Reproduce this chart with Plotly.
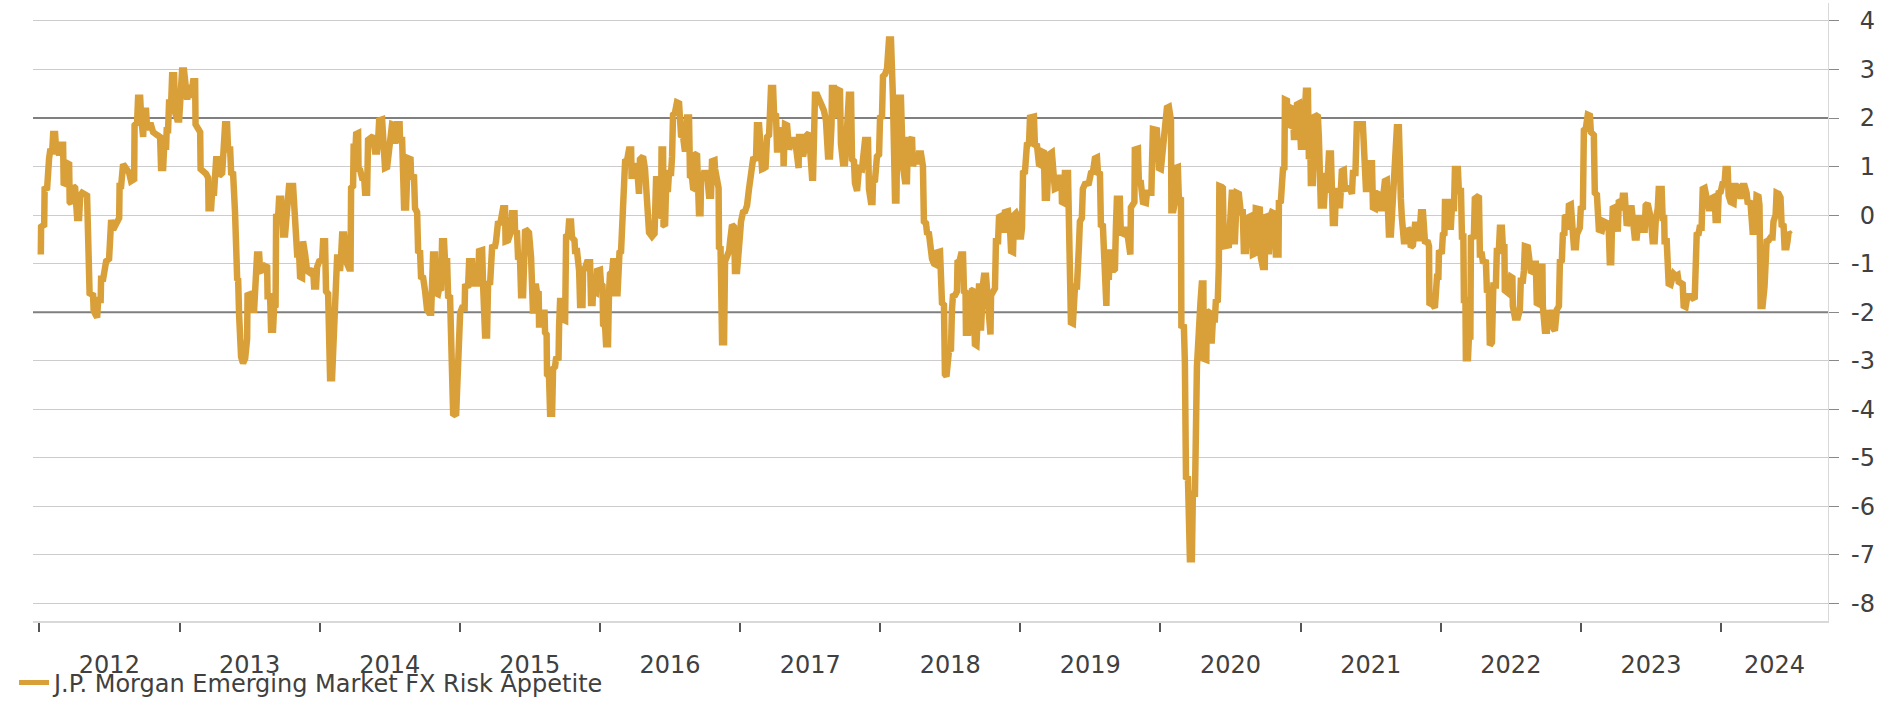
import pandas as pd
import plotly.graph_objects as go

# weekly-ish readings, time in years since 1 Jan 2012
years_since_2012 = [
    0.012, 0.014, 0.036, 0.039, 0.057, 0.061, 0.071, 0.078, 0.093, 0.100, 0.114, 0.121, 0.143, 0.150, 0.171, 0.175,
    0.193, 0.200, 0.214, 0.218, 0.228, 0.243, 0.257, 0.271, 0.285, 0.293, 0.307, 0.342, 0.346, 0.357, 0.360, 0.385,
    0.389, 0.414, 0.421, 0.439, 0.442, 0.457, 0.464, 0.478, 0.499, 0.503, 0.514, 0.528, 0.542, 0.571, 0.574, 0.585,
    0.599, 0.614, 0.642, 0.656, 0.678, 0.681, 0.699, 0.706, 0.721, 0.728, 0.742, 0.749, 0.763, 0.771, 0.778, 0.799,
    0.813, 0.842, 0.863, 0.870, 0.885, 0.892, 0.906, 0.910, 0.920, 0.927, 0.942, 0.949, 0.963, 0.970, 0.985, 0.999,
    1.006, 1.020, 1.034, 1.042, 1.056, 1.070, 1.084, 1.099, 1.113, 1.116, 1.134, 1.149, 1.152, 1.170, 1.191, 1.206,
    1.209, 1.227, 1.234, 1.248, 1.263, 1.277, 1.284, 1.306, 1.313, 1.327, 1.341, 1.348, 1.363, 1.370, 1.384, 1.388,
    1.398, 1.413, 1.420, 1.427, 1.434, 1.441, 1.455, 1.470, 1.484, 1.487, 1.505, 1.520, 1.534, 1.541, 1.555, 1.570,
    1.577, 1.598, 1.612, 1.627, 1.630, 1.648, 1.655, 1.669, 1.677, 1.687, 1.691, 1.705, 1.712, 1.727, 1.734, 1.741,
    1.755, 1.769, 1.783, 1.812, 1.826, 1.841, 1.855, 1.862, 1.876, 1.883, 1.898, 1.912, 1.933, 1.955, 1.962, 1.976,
    1.983, 1.998, 2.019, 2.026, 2.040, 2.047, 2.062, 2.069, 2.076, 2.090, 2.097, 2.112, 2.119, 2.126, 2.140, 2.147,
    2.154, 2.162, 2.176, 2.187, 2.197, 2.212, 2.222, 2.226, 2.240, 2.244, 2.258, 2.262, 2.276, 2.279, 2.290, 2.304,
    2.319, 2.326, 2.340, 2.347, 2.361, 2.368, 2.383, 2.397, 2.411, 2.419, 2.426, 2.447, 2.454, 2.468, 2.483, 2.490,
    2.504, 2.518, 2.536, 2.540, 2.554, 2.572, 2.575, 2.590, 2.604, 2.618, 2.626, 2.633, 2.650, 2.654, 2.675, 2.682,
    2.697, 2.704, 2.718, 2.725, 2.740, 2.743, 2.754, 2.768, 2.782, 2.797, 2.804, 2.811, 2.825, 2.832, 2.846, 2.854,
    2.868, 2.875, 2.889, 2.896, 2.911, 2.918, 2.932, 2.939, 2.954, 2.975, 2.989, 2.996, 3.004, 3.018, 3.036, 3.039,
    3.061, 3.068, 3.089, 3.097, 3.132, 3.139, 3.161, 3.168, 3.182, 3.196, 3.203, 3.218, 3.232, 3.253, 3.260, 3.275,
    3.289, 3.310, 3.324, 3.328, 3.346, 3.360, 3.374, 3.392, 3.396, 3.410, 3.417, 3.431, 3.439, 3.453, 3.460, 3.467,
    3.481, 3.495, 3.510, 3.514, 3.524, 3.531, 3.546, 3.553, 3.564, 3.567, 3.581, 3.588, 3.606, 3.610, 3.621, 3.624,
    3.638, 3.646, 3.660, 3.667, 3.681, 3.688, 3.706, 3.710, 3.717, 3.731, 3.738, 3.753, 3.760, 3.774, 3.781, 3.795,
    3.802, 3.820, 3.824, 3.838, 3.853, 3.860, 3.877, 3.881, 3.895, 3.909, 3.931, 3.938, 3.949, 3.952, 3.974, 3.981,
    4.002, 4.009, 4.020, 4.024, 4.038, 4.045, 4.059, 4.066, 4.073, 4.088, 4.095, 4.109, 4.112, 4.127, 4.131, 4.138,
    4.141, 4.152, 4.166, 4.177, 4.181, 4.195, 4.209, 4.224, 4.227, 4.241, 4.252, 4.266, 4.270, 4.280, 4.287, 4.302,
    4.309, 4.323, 4.337, 4.352, 4.373, 4.391, 4.402, 4.416, 4.423, 4.437, 4.441, 4.452, 4.455, 4.466, 4.473, 4.487,
    4.494, 4.509, 4.516, 4.523, 4.537, 4.551, 4.566, 4.573, 4.580, 4.594, 4.598, 4.608, 4.623, 4.637, 4.644, 4.658,
    4.666, 4.680, 4.683, 4.694, 4.708, 4.719, 4.723, 4.737, 4.744, 4.765, 4.780, 4.794, 4.801, 4.819, 4.823, 4.837,
    4.848, 4.851, 4.862, 4.873, 4.887, 4.894, 4.908, 4.923, 4.930, 4.944, 4.958, 4.965, 4.980, 4.987, 5.001, 5.008,
    5.022, 5.037, 5.051, 5.065, 5.080, 5.094, 5.115, 5.122, 5.137, 5.144, 5.158, 5.172, 5.183, 5.194, 5.208, 5.215,
    5.222, 5.237, 5.244, 5.258, 5.265, 5.279, 5.294, 5.308, 5.312, 5.322, 5.337, 5.351, 5.361, 5.372, 5.394, 5.408,
    5.419, 5.422, 5.436, 5.451, 5.465, 5.479, 5.493, 5.500, 5.515, 5.522, 5.529, 5.536, 5.551, 5.572, 5.586, 5.600,
    5.614, 5.629, 5.643, 5.654, 5.657, 5.671, 5.679, 5.693, 5.700, 5.714, 5.721, 5.736, 5.750, 5.764, 5.778, 5.793,
    5.800, 5.814, 5.821, 5.836, 5.850, 5.871, 5.893, 5.914, 5.921, 5.935, 5.946, 5.950, 5.964, 5.978, 5.993, 6.000,
    6.014, 6.021, 6.035, 6.050, 6.064, 6.078, 6.082, 6.092, 6.107, 6.117, 6.121, 6.135, 6.149, 6.156, 6.163, 6.178,
    6.192, 6.199, 6.220, 6.228, 6.235, 6.256, 6.270, 6.278, 6.292, 6.306, 6.313, 6.328, 6.335, 6.349, 6.356, 6.371,
    6.385, 6.399, 6.406, 6.428, 6.442, 6.456, 6.463, 6.474, 6.492, 6.506, 6.513, 6.520, 6.535, 6.549, 6.553, 6.567,
    6.578, 6.592, 6.599, 6.610, 6.613, 6.628, 6.635, 6.642, 6.649, 6.656, 6.667, 6.677, 6.688, 6.692, 6.703, 6.706,
    6.717, 6.720, 6.735, 6.742, 6.756, 6.763, 6.777, 6.788, 6.792, 6.806, 6.820, 6.827, 6.842, 6.849, 6.863, 6.870,
    6.884, 6.891, 6.913, 6.927, 6.935, 6.949, 6.956, 6.970, 6.984, 6.991, 7.006, 7.013, 7.020, 7.034, 7.041, 7.048,
    7.063, 7.070, 7.098, 7.105, 7.120, 7.134, 7.148, 7.155, 7.169, 7.176, 7.191, 7.205, 7.226, 7.233, 7.247, 7.262,
    7.276, 7.294, 7.298, 7.312, 7.319, 7.341, 7.348, 7.358, 7.362, 7.376, 7.391, 7.405, 7.408, 7.419, 7.426, 7.440,
    7.447, 7.462, 7.490, 7.505, 7.519, 7.533, 7.548, 7.555, 7.569, 7.576, 7.590, 7.605, 7.615, 7.619, 7.633, 7.640,
    7.651, 7.661, 7.676, 7.683, 7.690, 7.711, 7.718, 7.733, 7.747, 7.761, 7.775, 7.786, 7.790, 7.804, 7.815, 7.818,
    7.840, 7.847, 7.861, 7.876, 7.897, 7.904, 7.936, 7.940, 7.947, 7.975, 7.990, 8.004, 8.018, 8.033, 8.047, 8.061,
    8.068, 8.076, 8.079, 8.093, 8.104, 8.107, 8.125, 8.132, 8.147, 8.150, 8.168, 8.175, 8.183, 8.197, 8.211, 8.225,
    8.232, 8.247, 8.261, 8.275, 8.286, 8.296, 8.307, 8.310, 8.328, 8.332, 8.346, 8.353, 8.367, 8.375, 8.389, 8.396,
    8.410, 8.417, 8.421, 8.439, 8.446, 8.453, 8.489, 8.510, 8.524, 8.531, 8.546, 8.560, 8.574, 8.588, 8.596, 8.610,
    8.617, 8.646, 8.660, 8.674, 8.681, 8.710, 8.717, 8.731, 8.745, 8.749, 8.767, 8.774, 8.782, 8.796, 8.810, 8.824,
    8.843, 8.846, 8.860, 8.875, 8.885, 8.889, 8.903, 8.910, 8.925, 8.932, 8.946, 8.953, 8.967, 8.975, 8.989, 9.003,
    9.013, 9.017, 9.031, 9.039, 9.053, 9.060, 9.067, 9.074, 9.088, 9.103, 9.124, 9.131, 9.145, 9.167, 9.181, 9.188,
    9.203, 9.217, 9.224, 9.231, 9.245, 9.253, 9.274, 9.281, 9.295, 9.309, 9.317, 9.352, 9.367, 9.374, 9.392, 9.395,
    9.402, 9.445, 9.452, 9.467, 9.481, 9.488, 9.510, 9.517, 9.531, 9.538, 9.552, 9.559, 9.581, 9.588, 9.602, 9.616,
    9.620, 9.631, 9.645, 9.652, 9.666, 9.674, 9.688, 9.702, 9.706, 9.716, 9.723, 9.738, 9.759, 9.766, 9.780, 9.787,
    9.802, 9.817, 9.838, 9.845, 9.860, 9.874, 9.888, 9.909, 9.917, 9.920, 9.945, 9.959, 9.974, 9.984, 9.988, 10.009,
    10.016, 10.027, 10.031, 10.052, 10.059, 10.073, 10.080, 10.095, 10.102, 10.123, 10.130, 10.145, 10.152, 10.162, 10.166, 10.177,
    10.180, 10.195, 10.202, 10.212, 10.216, 10.237, 10.244, 10.259, 10.273, 10.280, 10.294, 10.301, 10.323, 10.330, 10.344, 10.351,
    10.366, 10.376, 10.394, 10.401, 10.415, 10.423, 10.437, 10.444, 10.455, 10.458, 10.480, 10.501, 10.512, 10.515, 10.530, 10.551,
    10.565, 10.572, 10.587, 10.594, 10.601, 10.622, 10.643, 10.658, 10.665, 10.679, 10.686, 10.700, 10.715, 10.726, 10.729, 10.744,
    10.758, 10.765, 10.779, 10.793, 10.808, 10.815, 10.829, 10.844, 10.851, 10.865, 10.872, 10.883, 10.886, 10.901, 10.908, 10.915,
    10.929, 10.944, 10.951, 10.965, 10.972, 10.993, 11.000, 11.015, 11.022, 11.036, 11.050, 11.065, 11.072, 11.093, 11.100, 11.115,
    11.129, 11.150, 11.164, 11.193, 11.200, 11.207, 11.217, 11.221, 11.228, 11.243, 11.257, 11.264, 11.271, 11.285, 11.292, 11.300,
    11.314, 11.317, 11.328, 11.342, 11.349, 11.363, 11.371, 11.381, 11.385, 11.399, 11.406, 11.413, 11.431, 11.442, 11.456, 11.463,
    11.477, 11.485, 11.499, 11.513, 11.527, 11.535, 11.549, 11.556, 11.577, 11.584, 11.595, 11.598, 11.613, 11.627, 11.641, 11.648,
    11.663, 11.677, 11.691, 11.698, 11.713, 11.727, 11.734, 11.748, 11.755, 11.763, 11.784, 11.798, 11.813, 11.827, 11.841, 11.848,
    11.862, 11.870, 11.884, 11.898, 11.913, 11.927, 11.941, 11.955, 11.962, 11.977, 11.984, 11.998, 12.012, 12.026, 12.033, 12.048,
    12.055, 12.069, 12.076, 12.090, 12.097, 12.112, 12.126, 12.140, 12.155, 12.169, 12.183, 12.190, 12.211, 12.226, 12.240, 12.254,
    12.268, 12.275, 12.283, 12.297, 12.311, 12.326, 12.340, 12.354, 12.368, 12.375, 12.390, 12.397, 12.411, 12.425, 12.433, 12.447,
    12.454, 12.468, 12.475, 12.482, 12.497,
]

risk_appetite = [
    -0.81, -0.24, -0.20, 0.54, 0.56, 1.10, 1.17, 1.31, 1.31, 1.67, 1.67, 1.35, 1.25, 1.45, 1.45, 0.66,
    0.64, 1.07, 1.05, 0.27, 0.24, 0.60, 0.56, -0.06, -0.06, 0.40, 0.46, 0.40, -0.57, -0.64, -1.61, -1.65,
    -1.97, -2.11, -1.75, -1.75, -1.31, -1.31, -1.07, -0.95, -0.90, -0.13, -0.10, -0.30, -0.20, -0.06, 0.60, 0.60,
    1.05, 0.97, 0.87, 0.70, 0.74, 1.85, 1.91, 2.42, 2.42, 2.01, 1.61, 2.15, 2.15, 1.75, 1.85, 1.85,
    1.71, 1.65, 1.61, 0.97, 0.97, 1.41, 1.41, 1.75, 1.75, 2.32, 2.32, 2.88, 2.88, 2.11, 1.97, 1.97,
    2.28, 2.98, 2.98, 2.62, 2.38, 2.68, 2.42, 2.76, 2.76, 1.87, 1.77, 1.71, 0.95, 0.91, 0.85, 0.77,
    0.14, 0.14, 0.46, 0.46, 1.15, 1.15, 0.81, 0.87, 1.25, 1.87, 1.87, 1.35, 1.35, 0.87, 0.85, 0.06,
    0.04, -1.31, -1.33, -2.07, -2.62, -2.92, -3.05, -2.95, -2.55, -1.65, -1.63, -1.95, -1.95, -1.25, -0.81, -0.81,
    -1.15, -1.13, -1.05, -1.07, -1.67, -1.67, -2.36, -2.36, -1.87, -1.90, -0.04, -0.04, 0.34, 0.34, 0.00, -0.40,
    -0.40, -0.04, 0.60, 0.60, -0.13, -0.81, -0.81, -1.27, -1.29, -0.54, -0.81, -1.15, -1.19, -1.11, -1.47, -1.47,
    -1.07, -0.95, -0.93, -0.54, -0.54, -1.57, -1.62, -3.12, -3.36, -3.36, -2.80, -1.61, -1.30, -0.87, -0.87, -1.15,
    -0.87, -0.40, -0.40, -0.81, -1.00, -1.10, -1.10, 0.56, 0.60, 1.41, 1.41, 1.67, 1.69, 0.95, 0.93, 0.77,
    0.77, 0.46, 0.46, 1.55, 1.57, 1.61, 1.63, 1.31, 1.31, 1.55, 1.95, 1.97, 1.41, 0.97, 0.99, 1.15,
    1.37, 1.87, 1.85, 1.47, 1.87, 1.87, 1.55, 1.55, 0.16, 0.16, 0.81, 1.17, 1.15, 0.81, 0.79, 0.14,
    0.06, -0.74, -0.76, -1.27, -1.29, -1.55, -1.57, -1.95, -2.01, -2.01, -1.65, -0.81, -0.81, -1.61, -1.63, -1.51,
    -1.55, -0.54, -0.54, -0.95, -0.95, -1.67, -1.69, -2.80, -4.09, -4.13, -2.60, -2.28, -2.01, -1.91, -1.91, -1.47,
    -1.45, -0.95, -0.95, -1.41, -1.41, -0.74, -0.72, -1.47, -2.48, -2.48, -1.41, -1.39, -0.66, -0.64, -0.54, -0.13,
    -0.20, 0.14, 0.14, -0.54, -0.52, -0.40, 0.04, 0.04, -0.34, -0.36, -0.87, -0.89, -1.65, -1.65, -0.74, -0.34,
    -0.32, -0.36, -0.87, -2.01, -2.03, -1.47, -1.47, -1.61, -1.57, -2.25, -2.25, -2.01, -2.01, -2.42, -2.46, -3.28,
    -3.32, -4.09, -4.09, -3.16, -3.12, -2.96, -2.94, -2.28, -1.77, -1.77, -2.15, -2.17, -0.44, -0.42, -0.13, -0.13,
    -0.46, -0.52, -0.74, -0.74, -1.15, -1.85, -1.85, -1.15, -1.09, -0.97, -0.97, -1.81, -1.81, -1.55, -1.59, -1.15,
    -1.13, -1.41, -1.45, -2.25, -2.28, -2.66, -2.66, -1.61, -1.21, -1.17, -0.95, -0.95, -1.61, -1.61, -1.25, -1.19,
    -0.77, -0.75, 0.34, 0.36, 1.11, 1.13, 1.35, 1.35, 0.81, 0.81, 1.01, 1.01, 0.44, 0.44, 1.15, 1.17,
    1.21, 0.95, 0.24, -0.36, -0.44, -0.38, 0.74, 0.74, 0.00, -0.02, 1.35, 1.35, -0.20, -0.22, 0.54, 0.54,
    0.87, 0.87, 1.21, 2.07, 2.11, 2.32, 2.30, 2.07, 1.65, 1.63, 1.31, 1.31, 2.01, 2.01, 0.81, 0.79,
    0.56, 0.54, 1.25, 1.27, 0.04, 0.04, 0.74, 0.77, 0.87, 0.87, 0.40, 0.40, 1.11, 1.13, 0.95, 0.56,
    0.56, -0.66, -0.68, -2.62, -2.62, -0.95, -0.81, -0.74, -0.54, -0.20, -0.24, -1.15, -1.15, -0.60, -0.40, -0.13,
    0.06, 0.08, 0.20, 0.54, 0.95, 1.15, 1.17, 1.85, 1.85, 1.47, 0.95, 0.97, 0.99, 1.61, 1.65, 2.11,
    2.62, 2.62, 2.07, 2.05, 1.35, 1.35, 1.75, 1.75, 1.01, 1.87, 1.85, 1.35, 1.45, 1.55, 1.55, 0.97,
    0.97, 1.61, 1.61, 1.21, 1.45, 1.65, 1.69, 1.07, 0.77, 0.77, 1.87, 2.48, 2.48, 2.38, 2.25, 2.15,
    1.95, 1.21, 1.21, 1.87, 2.62, 2.62, 2.07, 2.03, 2.58, 2.56, 1.47, 1.07, 1.07, 1.75, 2.48, 2.48,
    1.15, 1.11, 0.66, 0.50, 0.97, 0.95, 1.55, 1.55, 0.54, 0.27, 0.27, 0.70, 0.72, 1.21, 1.25, 2.01,
    2.03, 2.86, 2.90, 3.02, 3.62, 3.62, 2.42, 2.42, 0.30, 0.30, 1.27, 2.42, 2.42, 1.27, 1.01, 0.70,
    0.70, 1.55, 1.55, 1.61, 1.01, 1.25, 1.05, 1.27, 1.27, 1.01, -0.13, -0.17, -0.36, -0.38, -0.66, -0.90,
    -1.00, -1.02, -0.77, -0.75, -1.81, -1.85, -3.28, -3.32, -2.78, -2.76, -1.95, -1.67, -1.65, -1.57, -0.97, -0.95,
    -0.81, -0.81, -1.57, -1.59, -2.42, -2.42, -1.57, -1.85, -2.46, -1.55, -1.53, -2.66, -2.68, -2.42, -1.60, -1.47,
    -1.47, -2.38, -1.41, -1.25, -1.25, -1.61, -2.46, -2.46, -1.65, -1.55, -1.51, -0.54, -0.54, -0.04, -0.02, -0.30,
    -0.30, 0.06, 0.08, -0.26, -0.74, -0.76, 0.00, 0.04, -0.06, -0.44, -0.44, -0.26, 0.87, 0.89, 1.21, 1.45,
    1.47, 2.01, 2.03, 1.45, 1.43, 1.05, 1.03, 1.31, 1.29, 0.36, 0.36, 1.25, 1.29, 0.81, 0.54, 0.56,
    0.77, 0.77, 0.27, 0.25, 0.87, 0.87, -0.87, -0.87, -2.21, -2.23, -1.47, -1.47, -0.64, -0.64, -0.13, -0.06,
    0.54, 0.64, 0.66, 0.87, 0.89, 1.17, 1.19, 0.87, 0.85, -0.20, -0.22, -1.87, -1.87, -1.27, -1.27, -0.77,
    -0.77, -1.15, -1.11, -0.24, 0.34, 0.34, -0.36, -0.38, -0.30, -0.30, -0.81, -0.81, 0.16, 0.20, 0.27, 1.35,
    1.37, 0.66, 0.66, 0.27, 0.25, 0.46, 0.46, 1.01, 1.77, 1.75, 0.97, 0.95, 1.41, 1.77, 2.21, 2.23,
    2.01, 1.95, 0.10, 0.10, 0.27, 0.97, 0.99, 0.34, 0.32, -2.28, -2.30, -3.02, -5.40, -5.42, -7.09, -7.09,
    -5.74, -5.74, -3.12, -1.81, -1.81, -1.41, -1.41, -2.96, -2.98, -1.97, -2.00, -2.58, -2.58, -2.15, -2.15, -1.77,
    -1.75, -1.07, 0.60, 0.58, 0.56, -0.64, -0.62, 0.46, 0.46, -0.60, 0.46, 0.44, 0.06, 0.06, -0.74, -0.74,
    -0.06, -0.02, -0.81, -0.79, 0.14, 0.12, -0.87, -1.07, -1.07, -0.04, -0.02, -0.81, -0.06, 0.06, 0.04, -0.81,
    -0.81, 0.27, 0.29, 0.95, 0.97, 2.38, 2.36, 1.87, 1.85, 2.21, 2.19, 1.61, 1.61, 2.28, 2.30, 1.41,
    1.41, 2.28, 2.15, 2.56, 2.56, 1.15, 2.07, 0.66, 0.66, 2.07, 2.03, 1.61, 0.20, 0.20, 0.87, 0.46,
    1.27, 1.27, 0.40, -0.16, -0.16, 0.50, 0.50, 0.14, 0.91, 0.93, 0.54, 0.56, 0.44, 0.87, 0.87, 1.15,
    1.87, 1.87, 1.11, 0.54, 0.54, 1.07, 1.07, 0.16, 0.14, 0.46, 0.44, 0.14, 0.14, 0.46, 0.70, 0.72,
    0.16, -0.40, -0.40, 0.06, 0.70, 1.05, 1.81, 1.81, 0.36, 0.34, -0.04, -0.54, -0.54, -0.27, -0.32, -0.66,
    -0.62, -0.20, -0.20, -0.54, 0.06, 0.06, -0.54, -0.56, -0.64, -1.81, -1.85, -1.91, -1.27, -1.27, -0.77, -0.75,
    -0.40, -0.38, 0.27, 0.27, -0.24, -0.24, 0.14, 0.14, 0.95, 0.95, 0.50, 0.50, -0.44, -0.44, -1.75, -1.75,
    -2.95, -2.95, -2.50, -2.50, -0.46, -0.44, 0.34, 0.40, 0.40, -0.81, -0.81, -0.95, -0.97, -1.55, -1.57, -2.68,
    -2.62, -1.45, -1.45, -0.74, -0.74, -0.26, -0.26, -0.66, -0.66, -1.55, -1.60, -1.27, -1.29, -1.87, -2.11, -2.11,
    -1.95, -1.35, -1.35, -1.15, -0.64, -0.66, -1.15, -1.17, -1.00, -1.00, -1.81, -1.83, -1.00, -1.00, -1.87, -2.38,
    -2.38, -1.95, -2.35, -1.95, -2.35, -2.38, -1.95, -1.87, -0.95, -0.93, -0.40, -0.38, -0.04, -0.02, -0.30, 0.20,
    0.22, -0.30, -0.66, -0.66, -0.40, -0.26, 0.14, 0.16, 1.75, 1.79, 2.07, 2.05, 1.71, 1.65, 0.46, 0.42,
    -0.30, -0.32, -0.13, -0.17, -0.34, -0.97, -0.97, -0.40, 0.14, 0.16, -0.30, -0.34, 0.27, 0.29, 0.10, 0.40,
    0.40, -0.20, -0.22, -0.10, 0.14, 0.14, -0.13, -0.13, -0.46, -0.46, -0.13, -0.06, -0.06, -0.30, -0.30, 0.20,
    0.24, 0.16, -0.06, -0.54, -0.54, -0.10, 0.14, 0.54, 0.54, -0.06, -0.06, -0.54, -0.54, -1.41, -1.43, -1.35,
    -1.21, -1.25, -1.23, -1.37, -1.40, -1.42, -1.87, -1.89, -1.77, -1.67, -1.67, -1.71, -1.69, -0.40, -0.38, -0.26,
    -0.26, 0.54, 0.56, 0.34, 0.14, 0.14, 0.36, 0.38, -0.10, -0.10, 0.46, 0.48, 0.66, 0.68, 0.95, 0.95,
    0.40, 0.27, 0.24, 0.24, 0.60, 0.60, 0.56, 0.34, 0.60, 0.60, 0.46, 0.27, 0.25, -0.34, -0.34, 0.40,
    0.38, 0.20, -1.87, -1.87, -1.47, -0.54, -0.52, -0.46, -0.46, -0.13, 0.00, 0.46, 0.44, 0.36, -0.20, -0.22,
    -0.66, -0.66, -0.54, -0.36, -0.40,
]

series_name = "J.P. Morgan Emerging Market FX Risk Appetite"
year_labels = list(range(2012, 2025))
y_ticks = list(range(-8, 5))
threshold_levels = [2, -2]
x_start, x_end = "2011-12-16", "2024-10-06"
y_range = [-8.36, 4.37]

GOLD = "#D9A03A"
TEXT = "#404040"
FONT = "DejaVu Sans"

base = pd.Timestamp("2012-01-01")
dates = [(base + pd.Timedelta(days=t * 365.25)).floor("min") for t in years_since_2012]

# year boundaries get tick marks, labels sit in the middle of each (visible) year
year_starts = [pd.Timestamp(y, 1, 1) for y in year_labels]
end = pd.Timestamp(x_end)
label_pos = [(s + (min(pd.Timestamp(s.year + 1, 1, 1), end) - s) / 2).floor("min") for s in year_starts]

fig = go.Figure()
# +/-2 reference lines as traces so they sit above the grid but under the series
for lvl in threshold_levels:
    fig.add_trace(go.Scatter(
        x=[x_start, x_end], y=[lvl, lvl], mode="lines",
        line=dict(color="#7f7f7f", width=2), showlegend=False, hoverinfo="skip",
    ))
fig.add_trace(go.Scatter(
    x=dates, y=risk_appetite, mode="lines", name=series_name,
    line=dict(color=GOLD, width=6.5),
))
# invisible helper so the right-aligned label axis gets drawn
fig.add_trace(go.Scatter(
    x=[dates[0]], y=[risk_appetite[0]], yaxis="y2", mode="markers",
    marker=dict(opacity=0), showlegend=False, hoverinfo="skip",
))

fig.update_layout(
    width=1885, height=708,
    margin=dict(l=33, r=10, t=3, b=73),
    paper_bgcolor="white", plot_bgcolor="white",
    font=dict(family=FONT, size=24, color=TEXT),
    showlegend=True,
    legend=dict(orientation="h", x=-0.0103, xanchor="left", y=-0.1, yanchor="middle",
                bgcolor="rgba(0,0,0,0)", font=dict(size=24), tracegroupgap=0,
                itemsizing="constant"),
    xaxis=dict(
        domain=[0, 1795 / 1842], range=[x_start, x_end],
        showgrid=False, zeroline=False, showline=True, linecolor="#d9d9d9", linewidth=1.5,
        tickmode="array", tickvals=label_pos, ticktext=[str(y) for y in year_labels],
        ticks="outside", ticklen=21, tickcolor="rgba(0,0,0,0)",
        minor=dict(tickmode="array", tickvals=year_starts, ticks="outside", ticklen=9,
                   tickwidth=1.5, tickcolor="#555555", showgrid=False),
    ),
    yaxis=dict(
        side="right", range=y_range, tickmode="array", tickvals=y_ticks, showticklabels=False,
        ticks="outside", ticklen=10, tickcolor="#888888",
        showgrid=True, gridcolor="#cccccc", gridwidth=1,
        showline=True, linecolor="#d9d9d9", zeroline=False,
    ),
    yaxis2=dict(
        overlaying="y", side="left", anchor="free", position=1, range=y_range,
        tickmode="array", tickvals=y_ticks, ticktext=[str(v) for v in y_ticks],
        ticks="", showgrid=False, showline=False, zeroline=False,
    ),
)

fig.write_html("out.html", config={"displayModeBar": False},
               post_script="document.body.style.margin='0';document.body.style.overflow='hidden';")
